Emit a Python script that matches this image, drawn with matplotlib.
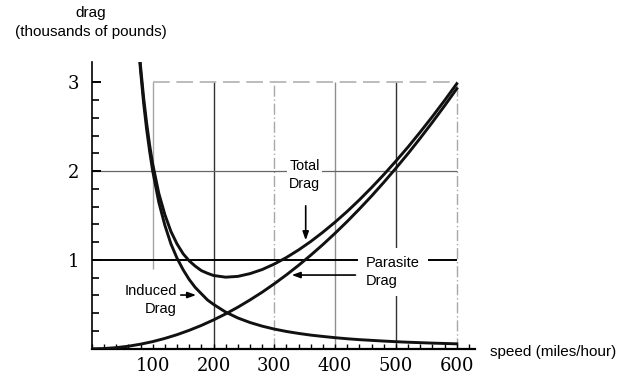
import matplotlib.pyplot as plt
from matplotlib.ticker import MultipleLocator, FixedLocator

# valori (velocita' in miglia/ora, resistenza in migliaia di libbre)
speed_induced = [78, 80, 85, 90, 95, 100, 110, 120, 130, 140, 150, 160, 170, 180, 190,
                 200, 220, 240, 260, 280, 300, 320, 340, 360, 380, 400, 420, 440, 460,
                 480, 500, 520, 540, 560, 580, 600]
induced_drag = [3.29, 3.13, 2.77, 2.47, 2.22, 2.00, 1.65, 1.39, 1.18, 1.02, 0.89, 0.78,
                0.69, 0.62, 0.55, 0.50, 0.413, 0.347, 0.296, 0.255, 0.222, 0.195, 0.173,
                0.154, 0.139, 0.125, 0.113, 0.103, 0.095, 0.087, 0.080, 0.074, 0.069,
                0.064, 0.060, 0.056]

speed_parasite = [0, 20, 40, 60, 80, 100, 120, 140, 160, 180, 200, 220, 240, 260, 280,
                  300, 320, 340, 360, 380, 400, 420, 440, 460, 480, 500, 520, 540, 560,
                  580, 600]
parasite_drag = [0.0, 0.003, 0.013, 0.029, 0.052, 0.081, 0.117, 0.159, 0.208, 0.263,
                 0.325, 0.393, 0.468, 0.550, 0.637, 0.732, 0.833, 0.940, 1.054, 1.174,
                 1.301, 1.434, 1.574, 1.720, 1.873, 2.033, 2.198, 2.371, 2.550, 2.735,
                 2.927]

speed_total = [78, 80, 85, 90, 95, 100, 110, 120, 130, 140, 150, 160, 170, 180, 190,
               200, 220, 240, 260, 280, 300, 320, 340, 360, 380, 400, 420, 440, 460,
               480, 500, 520, 540, 560, 580, 600]
total_drag = [3.34, 3.18, 2.83, 2.54, 2.29, 2.08, 1.75, 1.51, 1.32, 1.18, 1.07, 0.99,
              0.93, 0.88, 0.85, 0.825, 0.806, 0.815, 0.846, 0.892, 0.954, 1.028, 1.113,
              1.208, 1.313, 1.426, 1.547, 1.677, 1.815, 1.960, 2.113, 2.272, 2.440,
              2.614, 2.795, 2.983]

x_labels = [100, 200, 300, 400, 500, 600]
y_labels = [1, 2, 3]

fig = plt.figure(figsize=(6.18, 3.8), dpi=100)
ax = fig.add_axes([0.1487, 0.0821, 0.6199, 0.7553])
ax.set_xlim(0, 630)
ax.set_ylim(0, 3.23)

for s in ['top', 'right']:
    ax.spines[s].set_visible(False)
ax.spines['bottom'].set_linewidth(1.6)
ax.spines['left'].set_linewidth(1.2)

# griglia disegnata a mano come nel libro
ax.vlines(100, 0.9, 3, color='#a5a5a5', lw=1.0, zorder=1)
ax.vlines(200, 0, 3, color='#333333', lw=1.0, zorder=1)
ax.vlines(300, 0, 3, color='#a8a8a8', lw=1.0, linestyles=(0, (8, 2, 1, 2)), zorder=1)
ax.vlines(400, 0, 3, color='#8f8f8f', lw=1.0, zorder=1)
ax.vlines(500, 0, 3, color='#333333', lw=1.0, zorder=1)
ax.vlines(600, 0, 3, color='#a8a8a8', lw=1.0, linestyles=(0, (8, 2, 1, 2)), zorder=1)
ax.hlines(3, 100, 600, color='#b0b0b0', lw=1.2, linestyles=(0, (10, 4)), zorder=1)
ax.hlines(2, 0, 600, color='#666666', lw=0.9, zorder=1)
ax.hlines(1, 0, 600, color='black', lw=1.4, zorder=1)

ax.plot(speed_induced, induced_drag, color='#111111', lw=2.1, zorder=3)
ax.plot(speed_parasite, parasite_drag, color='#111111', lw=2.1, zorder=3)
ax.plot(speed_total, total_drag, color='#111111', lw=2.1, zorder=3)

ax.xaxis.set_major_locator(FixedLocator(x_labels))
ax.xaxis.set_minor_locator(MultipleLocator(20))
ax.yaxis.set_major_locator(FixedLocator(y_labels))
ax.yaxis.set_minor_locator(FixedLocator([i * 0.2 for i in range(1, 16)]))
ax.tick_params(axis='x', which='both', direction='in', length=3.8, width=1.0, pad=6)
ax.tick_params(axis='y', which='minor', direction='in', length=5, width=1.2)
ax.tick_params(axis='y', which='major', direction='in', length=6.5, width=1.4, pad=9)
ax.set_xticklabels([str(v) for v in x_labels], family='DejaVu Serif', fontsize=13)
ax.set_yticklabels([str(v) for v in y_labels], family='DejaVu Serif', fontsize=13)

sans = 'Liberation Sans'
box = dict(boxstyle='square,pad=0.15', fc='white', ec='none')

ax.text(350, 1.955, 'Total\nDrag', ha='center', va='center', family=sans,
        fontsize=10.3, linespacing=1.3, bbox=box, zorder=4)
ax.annotate('', xy=(351.6, 1.19), xytext=(351.6, 1.64),
            arrowprops=dict(arrowstyle='-|>,head_length=0.5,head_width=0.18',
                            color='black', lw=1.2), zorder=5)

ax.text(451, 0.865, 'Parasite\nDrag', ha='left', va='center', family=sans,
        fontsize=10.5, linespacing=1.3, zorder=4,
        bbox=dict(boxstyle='square,pad=0.55', fc='white', ec='none'))
ax.annotate('', xy=(324, 0.83), xytext=(438, 0.83),
            arrowprops=dict(arrowstyle='-|>,head_length=0.5,head_width=0.18',
                            color='black', lw=1.2), zorder=5)

ax.text(140, 0.55, 'Induced\nDrag', ha='right', va='center', family=sans,
        fontsize=10.5, linespacing=1.3, multialignment='right', zorder=4)
ax.annotate('', xy=(176, 0.605), xytext=(141.6, 0.605),
            arrowprops=dict(arrowstyle='-|>,head_length=0.5,head_width=0.18',
                            color='black', lw=1.2), zorder=5)

fig.text(91 / 618, 1 - 13 / 380, 'drag', ha='center', va='center', family=sans, fontsize=11)
fig.text(91 / 618, 1 - 32 / 380, '(thousands of pounds)', ha='center', va='center',
         family=sans, fontsize=11)
fig.text(490 / 618, 1 - 352 / 380, 'speed (miles/hour)', ha='left', va='center',
         family=sans, fontsize=11)

fig.savefig('out.png', dpi=100)
